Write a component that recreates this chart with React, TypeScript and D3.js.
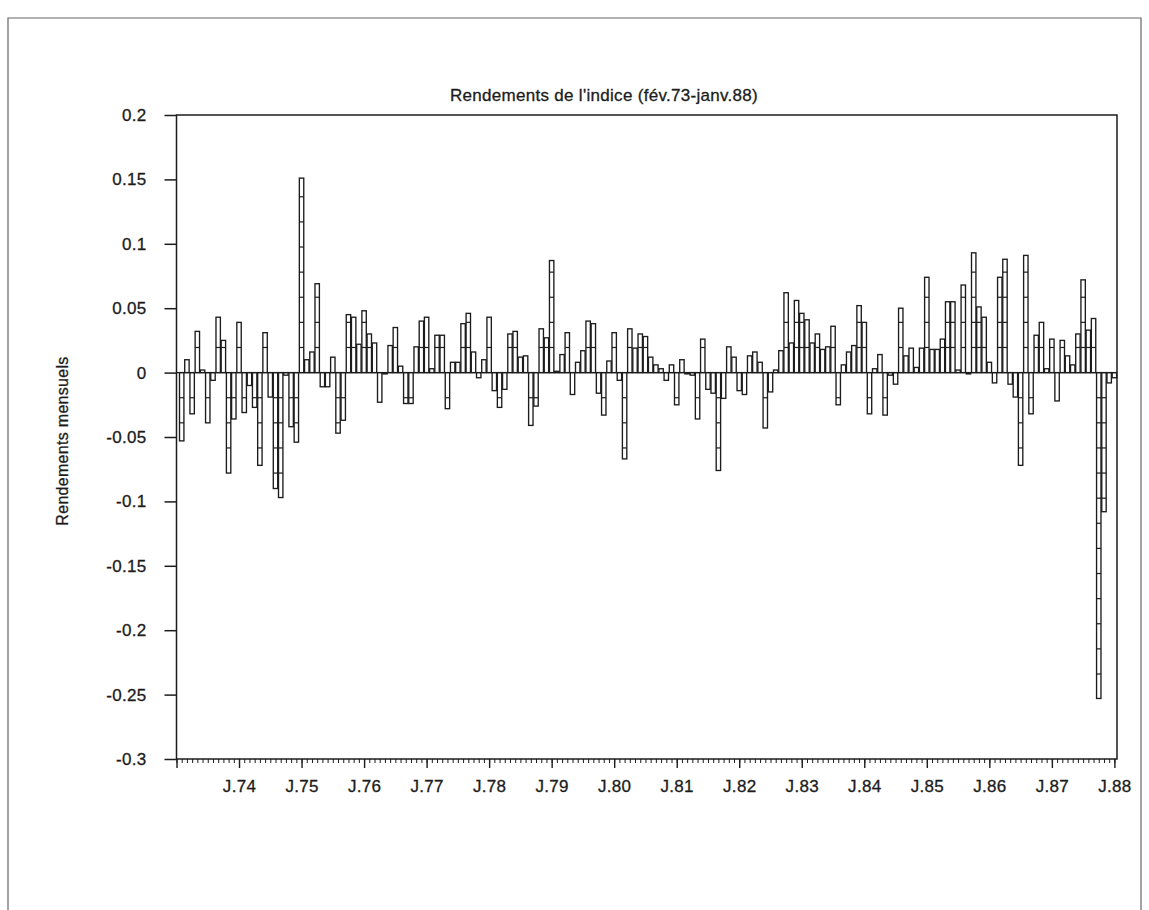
import React, { useEffect, useRef } from 'react';
import * as d3 from 'd3';

// monthly returns, fév.73 -> janv.88 (180 months)
const returns = [
  -0.053, 0.010, -0.032, 0.032, 0.002, -0.039, -0.006, 0.043, 0.025, -0.078, -0.036, 0.039,
  -0.031, -0.010, -0.027, -0.072, 0.031, -0.019, -0.090, -0.097, -0.002, -0.042, -0.054, 0.151,
  0.010, 0.016, 0.069, -0.011, -0.011, 0.012, -0.047, -0.037, 0.045, 0.043, 0.022, 0.048,
  0.030, 0.023, -0.023, -0.001, 0.021, 0.035, 0.005, -0.024, -0.024, 0.020, 0.040, 0.043,
  0.003, 0.029, 0.029, -0.028, 0.008, 0.008, 0.038, 0.046, 0.016, -0.004, 0.010, 0.043,
  -0.014, -0.027, -0.013, 0.030, 0.032, 0.012, 0.013, -0.041, -0.026, 0.034, 0.027, 0.087,
  0.001, 0.014, 0.031, -0.017, 0.008, 0.017, 0.040, 0.038, -0.016, -0.033, 0.009, 0.031,
  -0.006, -0.067, 0.034, 0.019, 0.030, 0.028, 0.012, 0.006, 0.003, -0.006, 0.006, -0.025,
  0.010, -0.001, -0.002, -0.036, 0.026, -0.013, -0.016, -0.076, -0.020, 0.020, 0.012, -0.014,
  -0.017, 0.013, 0.016, 0.008, -0.043, -0.015, 0.002, 0.017, 0.062, 0.023, 0.056, 0.046,
  0.041, 0.023, 0.030, 0.018, 0.020, 0.036, -0.025, 0.006, 0.016, 0.021, 0.052, 0.039,
  -0.032, 0.003, 0.014, -0.033, -0.002, -0.009, 0.050, 0.013, 0.019, 0.004, 0.019, 0.074,
  0.018, 0.018, 0.026, 0.055, 0.055, 0.002, 0.068, -0.001, 0.093, 0.051, 0.043, 0.008,
  -0.008, 0.074, 0.088, -0.009, -0.019, -0.072, 0.091, -0.032, 0.029, 0.039, 0.003, 0.026,
  -0.022, 0.025, 0.013, 0.006, 0.030, 0.072, 0.033, 0.042, -0.253, -0.108, -0.008, -0.004,
];

const yearLabels = ['J.74', 'J.75', 'J.76', 'J.77', 'J.78', 'J.79', 'J.80', 'J.81',
  'J.82', 'J.83', 'J.84', 'J.85', 'J.86', 'J.87', 'J.88'];

const yTicks = [0.2, 0.15, 0.1, 0.05, 0, -0.05, -0.1, -0.15, -0.2, -0.25, -0.3];

const title = "Rendements de l'indice (fév.73-janv.88)";
const yTitle = 'Rendements mensuels';

const font = '"Liberation Sans", Arial, Helvetica, sans-serif';
const ink = '#1c1c1c';

export default function App() {
  const ref = useRef<SVGSVGElement>(null);

  const width = 1149;
  const height = 910;
  const plot = { left: 176.5, right: 1117, top: 115, bottom: 759 };

  useEffect(() => {
    const svg = d3.select(ref.current);
    svg.selectAll('*').remove();

    // month index: -1 = janv.73, 0 = fév.73 ...
    const x = d3.scaleLinear()
      .domain([-1, returns.length - 0.5])
      .range([plot.left, plot.right]);
    const y = d3.scaleLinear()
      .domain([-0.3, 0.2])
      .range([plot.bottom, plot.top]);
    const slot = x(1) - x(0);

    // scanned text looks a bit heavier than plain Arial
    const styleText = sel => sel
      .attr('fill', ink)
      .attr('stroke', ink)
      .attr('stroke-width', 0.3)
      .style('font-family', font)
      .style('letter-spacing', '0.3px');

    // outer page frame
    svg.append('path')
      .attr('d', `M8,${height} V18 H1141 V${height}`)
      .attr('fill', 'none')
      .attr('stroke', '#666')
      .attr('stroke-width', 1.2);

    // bars
    const cellStep = 0.0195;
    const bars = svg.append('g').attr('class', 'bars');
    returns.forEach((v, i) => {
      const x0 = x(i) - slot / 2 + 0.4;
      const w = slot - 0.8;
      bars.append('rect')
        .attr('x', x0)
        .attr('y', y(Math.max(0, v)))
        .attr('width', w)
        .attr('height', Math.abs(y(v) - y(0)))
        .attr('fill', '#fff')
        .attr('stroke', ink)
        .attr('stroke-width', 1.35);
      // the cell pattern seen inside the bars
      const cuts = d3.range(cellStep, Math.abs(v) - 0.004, cellStep);
      cuts.forEach(c => {
        const yy = y(v > 0 ? c : -c);
        bars.append('line')
          .attr('x1', x0).attr('x2', x0 + w)
          .attr('y1', yy).attr('y2', yy)
          .attr('stroke', ink)
          .attr('stroke-width', 1.2);
      });
    });

    // zero line
    svg.append('line')
      .attr('x1', plot.left).attr('x2', plot.right)
      .attr('y1', y(0)).attr('y2', y(0))
      .attr('stroke', ink)
      .attr('stroke-width', 1.4);

    // plot frame
    svg.append('rect')
      .attr('x', plot.left)
      .attr('y', plot.top)
      .attr('width', plot.right - plot.left)
      .attr('height', plot.bottom - plot.top)
      .attr('fill', 'none')
      .attr('stroke', ink)
      .attr('stroke-width', 1.5);

    // y axis
    const yAxis = svg.append('g')
      .attr('transform', `translate(${plot.left},0)`)
      .call(d3.axisLeft(y)
        .tickValues(yTicks)
        .tickSize(12)
        .tickPadding(18)
        .tickFormat(d => String(+(+d).toFixed(2))));
    yAxis.select('.domain').remove();
    yAxis.selectAll('line').attr('stroke', ink).attr('stroke-width', 1.5);
    yAxis.selectAll('text').call(styleText).style('font-size', '17px');

    // x axis: monthly minor ticks, yearly major ticks
    const minor = svg.append('g')
      .attr('transform', `translate(0,${plot.bottom})`)
      .call(d3.axisBottom(x)
        .tickValues(d3.range(-1, returns.length))
        .tickSize(4)
        .tickFormat(() => ''));
    minor.select('.domain').remove();
    minor.selectAll('line').attr('stroke', ink).attr('stroke-width', 1);

    const janIdx = yearLabels.map((_, k) => 11 + 12 * k);
    const major = svg.append('g')
      .attr('transform', `translate(0,${plot.bottom})`)
      .call(d3.axisBottom(x)
        .tickValues([-1, ...janIdx])
        .tickSize(9)
        .tickPadding(12)
        .tickFormat(d => (+d < 0 ? '' : yearLabels[janIdx.indexOf(+d)])));
    major.select('.domain').remove();
    major.selectAll('line').attr('stroke', ink).attr('stroke-width', 1.4);
    major.selectAll('text').call(styleText).style('font-size', '17px');

    // titles
    svg.append('text')
      .attr('x', 604)
      .attr('y', 101)
      .attr('text-anchor', 'middle')
      .call(styleText)
      .style('font-size', '17px')
      .text(title);

    svg.append('text')
      .attr('transform', `translate(62,${(plot.top + plot.bottom) / 2 + 4}) rotate(-90)`)
      .attr('text-anchor', 'middle')
      .attr('dy', '0.35em')
      .call(styleText)
      .style('font-size', '16px')
      .text(yTitle);
  }, []);

  return (
    <div style={{ position: 'absolute', left: 0, top: 0 }}>
      <svg ref={ref} width={width} height={height} style={{ display: 'block', background: '#fff' }} />
    </div>
  );
}
